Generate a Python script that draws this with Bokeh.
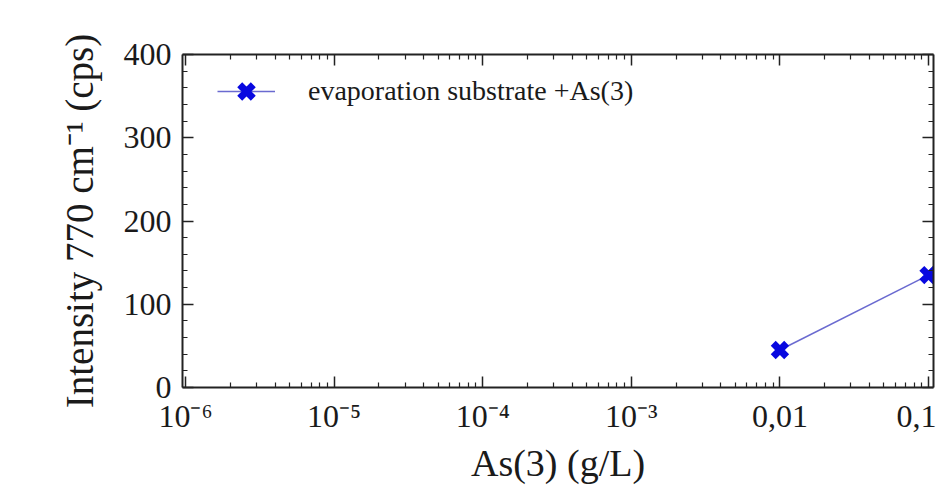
from bokeh.plotting import figure
from bokeh.models import Range1d, FixedTicker, LinearAxis, LogAxis, Legend, LegendItem, ColumnDataSource
from bokeh.embed import file_html
from bokeh.resources import INLINE

# data
conc = [0.01, 0.1]
intensity = [45, 135]
series_label = "evaporation substrate +As(3)"
x_major = [1e-6, 1e-5, 1e-4, 1e-3, 1e-2, 1e-1]
x_major_labels = ["10⁻⁶", "10⁻⁵", "10⁻⁴", "10⁻³", "0,01", "0,1"]
y_major = [0, 100, 200, 300, 400]
y_minor = [20, 40, 60, 80, 120, 140, 160, 180, 220, 240, 260, 280, 320, 340, 360, 380]
x_minor = [k * 10.0 ** e for e in range(-6, -1) for k in range(2, 10)]

FONT = "Liberation Serif"
TXT = "#1a1a1a"
AX = "#222222"

p = figure(width=936, height=486, x_axis_type="log",
           x_range=Range1d(0.954e-6, 0.108), y_range=Range1d(0, 400),
           output_backend="svg", toolbar_location=None,
           min_border_left=182, min_border_right=3, min_border_top=54, min_border_bottom=99)
p.outline_line_color = None
p.grid.visible = False
p.background_fill_color = "white"
p.border_fill_color = "white"

src = ColumnDataSource(dict(x=conc, y=intensity))
ln = p.line("x", "y", source=src, line_color="#6a6ad0", line_width=1.5)
sc = p.scatter("x", "y", source=src, marker="x", size=19, line_width=7, line_color="#0808e0")

xt = FixedTicker(ticks=x_major, minor_ticks=x_minor)
yt = FixedTicker(ticks=y_major, minor_ticks=y_minor)

def style(ax):
    ax.axis_line_color = AX
    ax.axis_line_width = 2
    ax.major_tick_line_color = AX
    ax.minor_tick_line_color = AX
    ax.major_tick_line_width = 1.5
    ax.minor_tick_line_width = 1.2
    ax.major_tick_in = 11
    ax.major_tick_out = 0
    ax.minor_tick_in = 5
    ax.minor_tick_out = 0
    ax.major_label_text_font = FONT
    ax.major_label_text_color = TXT
    ax.axis_label_text_font = FONT
    ax.axis_label_text_color = TXT
    ax.axis_label_text_font_style = "normal"

xa = p.xaxis[0]
xa.ticker = xt
xa.major_label_overrides = {v: s for v, s in zip(x_major, x_major_labels)}
style(xa)
xa.major_label_text_font_size = "32px"
xa.major_label_standoff = 10
xa.axis_label = "As(3) (g/L)"
xa.axis_label_text_font_size = "38px"
xa.axis_label_standoff = 5

ya = p.yaxis[0]
ya.ticker = yt
style(ya)
ya.major_label_text_font_size = "32px"
ya.major_label_standoff = 11
ya.axis_label = "Intensity 770 cm⁻¹ (cps)"
ya.axis_label_text_font_size = "39px"
ya.axis_label_standoff = 20

top = LogAxis(ticker=xt, major_label_overrides={v: "" for v in x_major})
style(top)
top.major_label_text_font_size = "1px"
top.major_label_standoff = 0
p.add_layout(top, "above")
right = LinearAxis(ticker=yt, major_label_overrides={v: "" for v in y_major})
style(right)
right.major_label_text_font_size = "1px"
right.major_label_standoff = 0
p.add_layout(right, "right")

legend = Legend(items=[LegendItem(label=series_label, renderers=[ln, sc])],
                location=(35, 272), padding=0, margin=0, spacing=0,
                glyph_width=58, glyph_height=48, label_height=30, label_standoff=33,
                label_text_font=FONT, label_text_font_size="28px", label_text_color=TXT,
                border_line_color=None, background_fill_alpha=0)
p.add_layout(legend)

open("out.html", "w").write(file_html(p, INLINE))
